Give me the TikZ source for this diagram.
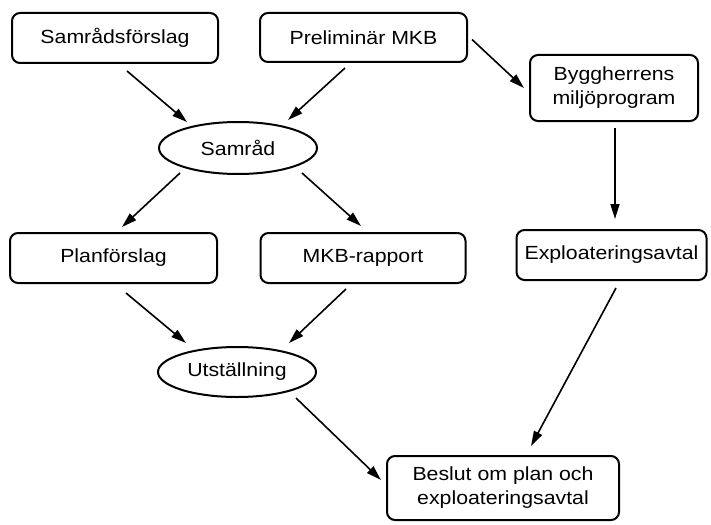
\documentclass[tikz,border=0pt]{standalone}
\usepackage{fontspec}
\newfontfamily\diagfont[FakeStretch=1.12]{Liberation Sans}
\usetikzlibrary{shapes.geometric,arrows.meta}
\begin{document}
\begin{tikzpicture}[x=1pt,y=-1pt,
  txt/.style={font=\diagfont\fontsize{19}{24}\selectfont},
  box/.style={txt,draw,line width=2pt,rounded corners=8pt,inner sep=0pt,align=center},
  oval/.style={txt,draw,ellipse,line width=2pt,inner sep=0pt},
  arr/.style={line width=1.6pt,-{Triangle[length=15pt,width=9pt]}}]
\useasboundingbox[fill=white] (0,0) rectangle (711,524);

\node[box,minimum width=206pt,minimum height=50pt] (sf) at (115,38) {Samrådsförslag};
\node[box,minimum width=207pt,minimum height=49pt] (pm) at (363.5,37.5) {Preliminär MKB};
\node[box,minimum width=168pt,minimum height=66pt] (bm) at (614,88) {Byggherrens\\miljöprogram};
\node[oval,minimum width=158pt,minimum height=52pt] (sa) at (238,148) {Samråd};
\node[box,minimum width=207pt,minimum height=50pt] (pf) at (113.5,258) {Planförslag};
\node[box,minimum width=205pt,minimum height=50pt] (mr) at (363,258) {MKB-rapport};
\node[box,minimum width=190pt,minimum height=50pt] (ea) at (611.5,255) {Exploateringsavtal};
\node[oval,minimum width=158pt,minimum height=50pt] (ut) at (237,372) {Utställning};
\node[box,minimum width=232pt,minimum height=64pt] (be) at (503,488) {Beslut om plan och\\exploateringsavtal};

\draw[arr] ([shift={(12,7)}]sf.south) -- ([shift={(-51,-26)}]sa.center);
\draw[arr] ([shift={(-18.5,5)}]pm.south) -- ([shift={(50,-28)}]sa.center);
\draw[arr] ([shift={(4,2)}]pm.east) -- ([shift={(-5,0)}]bm.west);
\draw[arr] ([shift={(1,6)}]bm.south) -- ([shift={(3.5,-10)}]ea.north);
\draw[arr] ([shift={(-58,25)}]sa.center) -- ([shift={(8.5,-5)}]pf.north);
\draw[arr] ([shift={(64,25)}]sa.center) -- ([shift={(-2,-6)}]mr.north);
\draw[arr] ([shift={(12.5,9)}]pf.south) -- ([shift={(-51,-29)}]ut.center);
\draw[arr] ([shift={(-17,5)}]mr.south) -- ([shift={(52,-29)}]ut.center);
\draw[arr] ([shift={(59,26)}]ut.center) -- ([shift={(-5,-8)}]be.west);
\draw[arr] ([shift={(4.5,7)}]ea.south) -- ([shift={(28,-9)}]be.north);
\end{tikzpicture}
\end{document}
